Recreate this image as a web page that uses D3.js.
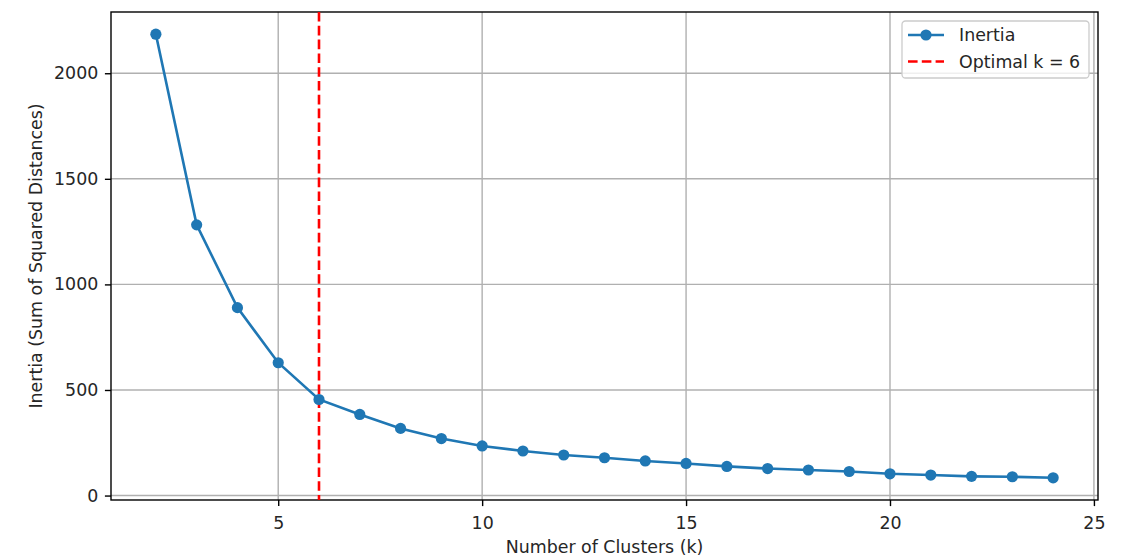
<!DOCTYPE html>
<html>
<head>
<meta charset="utf-8">
<script src="https://cdn.jsdelivr.net/npm/d3@7"></script>
<style>
  body { margin: 0; background: #fff; }
  svg text { font-family: "DejaVu Sans", sans-serif; fill: #262626; }
</style>
</head>
<body>
<svg id="chart" width="1132" height="560"></svg>
<script>
// data
const clusters = [2, 3, 4, 5, 6, 7, 8, 9, 10, 11, 12, 13, 14, 15, 16, 17, 18, 19, 20, 21, 22, 23, 24];
const inertia = [2185, 1282, 890, 629, 455, 384, 318, 270, 235, 211, 192, 179, 164, 152, 138, 128, 121, 114, 103, 97, 91, 89, 84];
const optimalK = 6;
const xTicks = [5, 10, 15, 20, 25];
const yTicks = [0, 500, 1000, 1500, 2000];

const W = 1132, H = 560;
const margin = { left: 111, right: 34, top: 12, bottom: 60 };
const plotW = W - margin.left - margin.right;
const plotH = H - margin.top - margin.bottom;
const fontSize = '17.4px';
const lw = 2.6;

const svg = d3.select('#chart');
const g = svg.append('g').attr('transform', `translate(${margin.left},${margin.top})`);

// matplotlib-like 5% padding
const xPad = (d3.max(clusters) - d3.min(clusters)) * 0.05;
const yPad = (d3.max(inertia) - d3.min(inertia)) * 0.05;
const x = d3.scaleLinear()
    .domain([d3.min(clusters) - xPad, d3.max(clusters) + xPad])
    .range([0, plotW]);
const y = d3.scaleLinear()
    .domain([d3.min(inertia) - yPad, d3.max(inertia) + yPad])
    .range([plotH, 0]);

// grid
g.append('g')
    .selectAll('line')
    .data(xTicks)
    .join('line')
    .attr('x1', d => x(d)).attr('x2', d => x(d))
    .attr('y1', 0).attr('y2', plotH)
    .attr('stroke', '#b0b0b0').attr('stroke-width', 1.4);
g.append('g')
    .selectAll('line')
    .data(yTicks)
    .join('line')
    .attr('y1', d => y(d)).attr('y2', d => y(d))
    .attr('x1', 0).attr('x2', plotW)
    .attr('stroke', '#b0b0b0').attr('stroke-width', 1.4);

// axes
const xAxis = g.append('g')
    .attr('transform', `translate(0,${plotH})`)
    .call(d3.axisBottom(x).tickValues(xTicks).tickSize(6.1).tickPadding(10.4).tickFormat(d3.format('d')));
const yAxis = g.append('g')
    .call(d3.axisLeft(y).tickValues(yTicks).tickSize(6.1).tickPadding(6.6).tickFormat(d3.format('d')));
[xAxis, yAxis].forEach(a => {
    a.select('.domain').remove();
    a.selectAll('line').attr('stroke', '#000').attr('stroke-width', 1.4);
    a.selectAll('text')
        .style('font-family', '"DejaVu Sans", sans-serif')
        .style('font-size', fontSize)
        .attr('fill', '#262626');
});

// frame
g.append('rect')
    .attr('x', 0).attr('y', 0)
    .attr('width', plotW).attr('height', plotH)
    .attr('fill', 'none').attr('stroke', '#000').attr('stroke-width', 1.4);

// optimal k line
g.append('line')
    .attr('x1', x(optimalK)).attr('x2', x(optimalK))
    .attr('y1', 0).attr('y2', plotH)
    .attr('stroke', '#ff0000').attr('stroke-width', lw)
    .attr('stroke-dasharray', '9.6,4.2');

// series
const pts = clusters.map((k, i) => ({ k, v: inertia[i] }));
g.append('path')
    .datum(pts)
    .attr('fill', 'none')
    .attr('stroke', '#1f77b4')
    .attr('stroke-width', lw)
    .attr('d', d3.line().x(d => x(d.k)).y(d => y(d.v)));
g.append('g')
    .selectAll('circle')
    .data(pts)
    .join('circle')
    .attr('cx', d => x(d.k))
    .attr('cy', d => y(d.v))
    .attr('r', 5.6)
    .attr('fill', '#1f77b4');

// axis labels
svg.append('text')
    .attr('x', margin.left + plotW / 2)
    .attr('y', 553)
    .attr('text-anchor', 'middle')
    .style('font-size', fontSize)
    .text('Number of Clusters (k)');
svg.append('text')
    .attr('transform', `translate(42,${margin.top + plotH / 2}) rotate(-90)`)
    .attr('text-anchor', 'middle')
    .style('font-size', fontSize)
    .text('Inertia (Sum of Squared Distances)');

// legend
const lg = svg.append('g').attr('transform', 'translate(902,21)');
lg.append('rect')
    .attr('width', 187).attr('height', 57)
    .attr('rx', 3.5)
    .attr('fill', '#fff').attr('fill-opacity', 0.8)
    .attr('stroke', '#cccccc').attr('stroke-width', 1.3);
lg.append('line')
    .attr('x1', 6).attr('x2', 42).attr('y1', 14).attr('y2', 14)
    .attr('stroke', '#1f77b4').attr('stroke-width', lw);
lg.append('circle').attr('cx', 24).attr('cy', 14).attr('r', 5.6).attr('fill', '#1f77b4');
lg.append('text').attr('x', 57).attr('y', 14).attr('dy', '0.35em')
    .style('font-size', fontSize).text('Inertia');
lg.append('line')
    .attr('x1', 6).attr('x2', 42).attr('y1', 40.5).attr('y2', 40.5)
    .attr('stroke', '#ff0000').attr('stroke-width', lw)
    .attr('stroke-dasharray', '9.6,4.2');
lg.append('text').attr('x', 57).attr('y', 40.5).attr('dy', '0.35em')
    .style('font-size', fontSize).text('Optimal k = 6');
</script>
</body>
</html>
